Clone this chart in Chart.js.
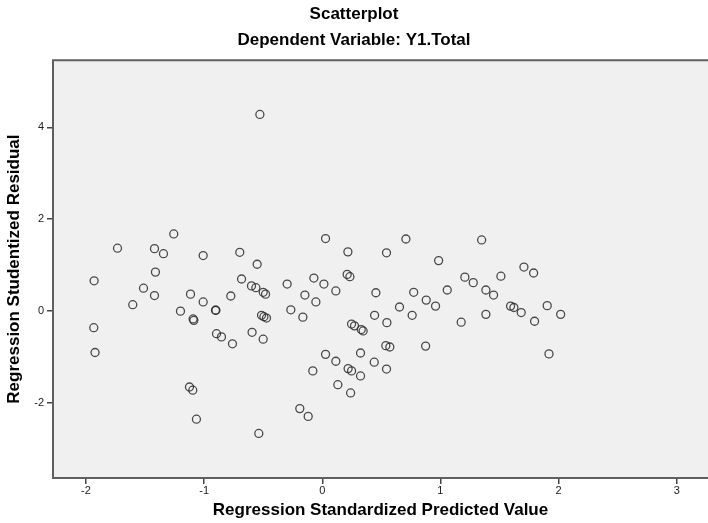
<!DOCTYPE html>
<html>
<head>
<meta charset="utf-8">
<title>Scatterplot</title>
<script src="https://cdn.jsdelivr.net/npm/chart.js@4.4.1/dist/chart.umd.min.js"></script>
<style>
	body { margin: 0; background: #fff; }
	#box { width: 708px; height: 523px; }
</style>
</head>
<body>
<div id="box">
	<canvas id="scatter" width="708" height="523"></canvas>
</div>
<script type="text/javascript">
	// values
	var predicted = [
	    -1.931, -1.934, -1.923, -1.733, -1.604, -1.513, -1.420, -1.412, -1.420, -1.344,
	    -1.257, -1.200, -1.115, -1.093, -1.087, -1.124, -1.096, -1.065, -1.008, -1.008,
	    -0.904, -0.900, -0.895, -0.853, -0.774, -0.760, -0.698, -0.683, -0.599, -0.594,
	    -0.562, -0.551, -0.528, -0.537, -0.514, -0.500, -0.480, -0.494, -0.472, -0.500,
	    -0.297, -0.266, -0.190, -0.164, -0.147, -0.119, -0.080, -0.071, -0.054, 0.014,
	    0.028, 0.028, 0.115, 0.115, 0.132, 0.211, 0.234, 0.217, 0.219, 0.248,
	    0.240, 0.248, 0.273, 0.324, 0.324, 0.330, 0.346, 0.440, 0.443, 0.454,
	    0.544, 0.547, 0.538, 0.572, 0.544, 0.654, 0.708, 0.761, 0.774, 0.875,
	    0.880, 0.959, 0.985, 1.058, 1.176, 1.207, 1.278, 1.349, 1.385, 1.385,
	    1.450, 1.512, 1.594, 1.622, 1.684, 1.707, 1.789, 1.797, 1.904, 1.919,
	    2.018
	];
	var residual = [
	    0.66, -0.36, -0.90, 1.37, 0.14, 0.50, 1.36, 0.85, 0.34, 1.25,
	    1.68, 0.00, 0.37, -0.17, -0.20, -1.65, -1.72, -2.35, 1.21, 0.20,
	    0.02, 0.02, -0.49, -0.56, 0.33, -0.71, 1.28, 0.70, 0.55, -0.46,
	    0.51, 1.02, 4.28, -2.66, -0.09, 0.41, 0.37, -0.12, -0.15, -0.61,
	    0.59, 0.03, -2.12, -0.13, 0.35, -2.29, -1.30, 0.72, 0.20, 0.59,
	    1.58, -0.94, 0.44, -1.09, -1.60, 0.80, 0.75, 1.29, -1.25, -1.30,
	    -1.78, -0.28, -0.32, -0.91, -1.41, -0.40, -0.43, -1.11, -0.09, 0.40,
	    1.27, -0.25, -0.75, -0.78, -1.26, 0.09, 1.57, -0.09, 0.41, -0.76,
	    0.24, 0.11, 1.10, 0.46, -0.24, 0.74, 0.62, 1.55, 0.46, -0.07,
	    0.35, 0.76, 0.11, 0.08, -0.03, 0.96, 0.83, -0.22, 0.12, -0.93,
	    -0.07
	];
	var xTicks = [-2, -1, 0, 1, 2, 3];
	var yTicks = [-2, 0, 2, 4];

	var fontFamily = '"Liberation Sans", Arial, sans-serif';

	var points = [];
	for (var i = 0; i < predicted.length; i++) {
	    points.push({ x: predicted[i], y: residual[i] });
	}

	// grey plot background + frame (no right edge, it is cut off)
	var plotFrame = {
	    id: 'plotFrame',
	    beforeDraw: function(chart) {
	        var a = chart.chartArea, ctx = chart.ctx;
	        ctx.save();
	        ctx.fillStyle = '#f0f0f0';
	        ctx.fillRect(a.left, a.top, chart.width - a.left, a.bottom - a.top);
	        ctx.restore();
	    },
	    afterDraw: function(chart) {
	        var a = chart.chartArea, ctx = chart.ctx;
	        ctx.save();
	        ctx.strokeStyle = '#5f5f5f';
	        ctx.lineWidth = 2;
	        ctx.beginPath();
	        ctx.moveTo(chart.width, a.top);
	        ctx.lineTo(a.left, a.top);
	        ctx.lineTo(a.left, a.bottom);
	        ctx.lineTo(chart.width, a.bottom);
	        ctx.stroke();
	        ctx.restore();
	    }
	};

	function useTicks(list) {
	    return function(scale) {
	        scale.ticks = list.map(function(v) { return { value: v }; });
	    };
	}

	var ctx = document.getElementById('scatter').getContext('2d');
	var chart = new Chart(ctx, {
	    type: 'scatter',
	    data: {
	        datasets: [{
	            label: 'Residual',
	            data: points,
	            pointStyle: 'circle',
	            pointRadius: 4,
	            pointHoverRadius: 4,
	            pointBorderWidth: 1.3,
	            borderColor: 'rgba(45, 45, 45, 0.85)',
	            backgroundColor: 'rgba(0, 0, 0, 0)'
	        }]
	    },
	    options: {
	        responsive: false,
	        animation: false,
	        layout: { padding: 0, autoPadding: false },
	        plugins: {
	            legend: { display: false },
	            tooltip: { enabled: false },
	            title: {
	                display: true,
	                text: 'Scatterplot',
	                color: '#000',
	                font: { family: fontFamily, size: 17, weight: 'bold' },
	                padding: { top: 4, bottom: 6 }
	            },
	            subtitle: {
	                display: true,
	                text: 'Dependent Variable: Y1.Total',
	                color: '#000',
	                font: { family: fontFamily, size: 17, weight: 'bold' },
	                padding: { top: 0, bottom: 9.4 }
	            }
	        },
	        scales: {
	            x: {
	                type: 'linear',
	                min: -2.279,
	                max: 3.265,
	                afterBuildTicks: useTicks(xTicks),
	                afterFit: function(scale) {
	                    scale.height = 45;
	                    scale.paddingLeft = 0;
	                    scale.paddingRight = 0;
	                },
	                border: { display: false },
	                grid: {
	                    drawOnChartArea: false,
	                    drawTicks: true,
	                    tickLength: 6,
	                    color: '#444',
	                    lineWidth: 1.5
	                },
	                ticks: {
	                    color: '#222',
	                    padding: 0,
	                    maxRotation: 0,
	                    font: { family: fontFamily, size: 11 }
	                },
	                title: {
	                    display: true,
	                    text: 'Regression Standardized Predicted Value',
	                    color: '#000',
	                    font: { family: fontFamily, size: 17, weight: 'bold' },
	                    padding: { top: 0, bottom: 2 }
	                }
	            },
	            y: {
	                type: 'linear',
	                min: -3.63,
	                max: 5.46,
	                afterBuildTicks: useTicks(yTicks),
	                afterFit: function(scale) {
	                    scale.width = 53;
	                    scale.paddingTop = 0;
	                    scale.paddingBottom = 0;
	                },
	                border: { display: false },
	                grid: {
	                    drawOnChartArea: false,
	                    drawTicks: true,
	                    tickLength: 6,
	                    color: '#444',
	                    lineWidth: 1.5
	                },
	                ticks: {
	                    color: '#222',
	                    padding: 3,
	                    font: { family: fontFamily, size: 11 }
	                },
	                title: {
	                    display: true,
	                    text: 'Regression Studentized Residual',
	                    color: '#000',
	                    font: { family: fontFamily, size: 17, weight: 'bold' },
	                    padding: { top: 4, bottom: 0 }
	                }
	            }
	        }
	    },
	    plugins: [plotFrame]
	});
</script>
</body>
</html>
